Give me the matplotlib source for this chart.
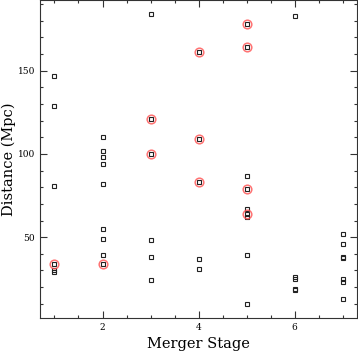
import matplotlib
matplotlib.use("Agg")
import matplotlib.pyplot as plt
from matplotlib.ticker import MultipleLocator, FixedLocator

# distances (Mpc) of all systems, per merger stage
stage1 = [147, 129, 81, 34, 30, 29]
stage2 = [110, 102, 98, 94, 82, 55, 49, 39, 34]
stage3 = [184, 121, 100, 48, 38, 24]
stage4 = [161, 109, 83, 37, 31]
stage5 = [178, 164, 87, 79, 67, 64, 62, 39, 10]
stage6 = [183, 26, 25, 19, 18]
stage7 = [52, 46, 38, 37.5, 25, 23, 13]

# highlighted systems (red circles)
hl_stage = [1, 2, 3, 3, 4, 4, 4, 5, 5, 5, 5]
hl_dist = [34, 34, 121, 100, 161, 109, 83, 178, 164, 79, 64]

stages = [stage1, stage2, stage3, stage4, stage5, stage6, stage7]

plt.rcParams['font.family'] = 'DejaVu Serif'

fig = plt.figure(figsize=(3.58, 3.52), dpi=100)
ax = fig.add_axes([0.112, 0.097, 0.885, 0.903])

for i, d in enumerate(stages):
    ax.plot([i + 1] * len(d), d, 's', ms=3.3, mfc='none', mec='#222222', mew=0.8)

ax.plot(hl_stage, hl_dist, 'o', ms=6.2, mfc='none', mec='#ff5050', mew=1.1, alpha=0.8)

ax.set_xlim(0.7, 7.3)
ax.set_ylim(1.5, 192.5)

ax.xaxis.set_major_locator(FixedLocator([2, 4, 6]))
ax.xaxis.set_minor_locator(MultipleLocator(0.5))
ax.yaxis.set_major_locator(MultipleLocator(50))
ax.yaxis.set_minor_locator(MultipleLocator(10))
ax.tick_params(which='both', direction='in', top=True, right=True, labelsize=6.5, color='#333333')
ax.tick_params(which='major', length=5, width=0.8)
ax.tick_params(which='minor', length=2.5, width=0.8)
for s in ax.spines.values():
    s.set_linewidth(0.8)
    s.set_color('#333333')

ax.set_xlabel('Merger Stage', fontsize=10.5, labelpad=4)
ax.set_ylabel('Distance (Mpc)', fontsize=10.5)
ax.yaxis.set_label_coords(-0.076, 0.5)

fig.savefig('out.png', dpi=100)
